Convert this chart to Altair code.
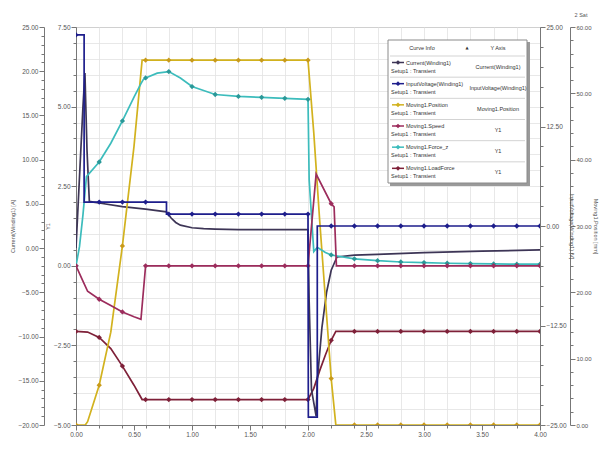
import altair as alt
import pandas as pd

# ---------------- data ----------------
# Current(Winding1) [A]
CUR_T = [0.0, 0.03, 0.06, 0.077, 0.095, 0.115, 0.15, 0.2, 0.4, 0.6, 0.78, 0.82, 0.86, 0.9, 1.0, 1.1, 1.2, 1.4,
         1.6, 1.8, 2.0, 2.01, 2.03, 2.07, 2.08, 2.12, 2.16, 2.2, 2.25, 2.4, 2.6, 3.0, 3.5, 4.0]
CUR_V = [0.0, 8.0, 16.0, 19.8, 11.0, 5.3, 5.2, 5.1, 4.7, 4.4, 4.1, 3.4, 2.9, 2.6, 2.3, 2.2, 2.15, 2.1,
         2.1, 2.1, 2.1, -6.0, -16.0, -19.0, -15.0, -9.0, -5.0, -2.5, -1.0, -0.8, -0.7, -0.5, -0.35, -0.2]

# InputVoltage(Winding1) [V]
VOL_T = [0.0, 0.07, 0.07, 0.2, 0.4, 0.6, 0.78, 0.78, 0.8, 1.0, 1.2, 1.4, 1.6, 1.8, 2.0, 2.003, 2.08, 2.08,
         2.2, 2.4, 2.6, 2.8, 3.0, 3.2, 3.4, 3.6, 3.8, 4.0]
VOL_V = [24, 24, 3.0, 3.0, 3.0, 3.0, 3.0, 1.5, 1.5, 1.5, 1.5, 1.5, 1.5, 1.5, 1.5, -24, -24, 0,
         0, 0, 0, 0, 0, 0, 0, 0, 0, 0]

# Moving1.Position [mm]
POS_T = [0.0, 0.08, 0.1, 0.2, 0.3, 0.4, 0.5, 0.57, 0.6, 0.8, 1.0, 1.2, 1.4, 1.6, 1.8, 2.0, 2.05, 2.1, 2.15,
         2.2, 2.24, 2.4, 2.6, 2.8, 3.0, 3.2, 3.4, 3.6, 3.8, 4.0]
POS_V = [0, 0, 0.5, 6.0, 14, 27, 42, 55, 55, 55, 55, 55, 55, 55, 55, 55, 44, 31, 19,
         7, 0, 0, 0, 0, 0, 0, 0, 0, 0, 0]

# Moving1.Speed (Y1)
SPD_T = [0.0, 0.05, 0.1, 0.2, 0.3, 0.4, 0.5, 0.56, 0.6, 0.8, 1.0, 1.2, 1.4, 1.6, 1.8, 2.0, 2.07, 2.2, 2.225,
         2.245, 2.4, 2.6, 2.8, 3.0, 3.2, 3.4, 3.6, 3.8, 4.0]
SPD_V = [0, -0.4, -0.8, -1.05, -1.25, -1.45, -1.6, -1.68, 0, 0, 0, 0, 0, 0, 0, 0, 2.88, 1.95, 1.85,
         0, 0, 0, 0, 0, 0, 0, 0, 0, 0]

# Moving1.Force_z (Y1)
FZ_T = [0.0, 0.03, 0.06, 0.09, 0.2, 0.3, 0.4, 0.5, 0.56, 0.58, 0.6, 0.7, 0.8, 0.9, 1.0, 1.2, 1.4, 1.6, 1.8,
        2.0, 2.01, 2.05, 2.08, 2.15, 2.2, 2.4, 2.6, 2.8, 3.0, 3.2, 3.4, 3.6, 3.8, 4.0]
FZ_V = [0, 0.6, 1.6, 2.8, 3.26, 3.85, 4.55, 5.3, 5.72, 5.85, 5.9, 6.05, 6.1, 5.9, 5.63, 5.38, 5.32, 5.29, 5.26,
        5.23, 2.7, 0.45, 0.58, 0.42, 0.34, 0.22, 0.16, 0.12, 0.1, 0.08, 0.07, 0.06, 0.05, 0.05]

# Moving1.LoadForce (Y1)
LF_T = [0.0, 0.1, 0.2, 0.3, 0.4, 0.5, 0.57, 0.6, 0.8, 1.0, 1.2, 1.4, 1.6, 1.8, 2.0, 2.05, 2.1, 2.15, 2.2,
        2.24, 2.4, 2.6, 2.8, 3.0, 3.2, 3.4, 3.6, 3.8, 4.0]
LF_V = [-2.06, -2.08, -2.25, -2.6, -3.15, -3.75, -4.2, -4.2, -4.2, -4.2, -4.2, -4.2, -4.2, -4.2, -4.2, -3.85,
        -3.3, -2.8, -2.34, -2.06, -2.06, -2.06, -2.06, -2.06, -2.06, -2.06, -2.06, -2.06, -2.06]

LEG_NAMES = ["Current(Winding1)", "InputVoltage(Winding1)", "Moving1.Position",
             "Moving1.Speed", "Moving1.Force_z", "Moving1.LoadForce"]
LEG_SETUP = "Setup1 : Transient"
LEG_YAXIS = ["Current(Winding1)", "InputVoltage(Winding1)", "Moving1.Position", "Y1", "Y1", "Y1"]

# ---------------- style / layout ----------------
FONT = "Liberation Sans"
PAD_L, PAD_T = 68, 19
W, H = 464, 398
OX, OY = 8 + PAD_L, 8 + PAD_T          # page position of the plot origin
C_CUR = "#3d3556"
C_VOL = "#1e1e8c"
C_POS = "#d2b21e"
C_SPD = "#9c2c5c"
C_FZ = "#3cbcbc"
C_LF = "#7e2038"
LEG_COLORS = [C_CUR, C_VOL, C_POS, C_SPD, C_FZ, C_LF]


def frame(ts, vs):
    return pd.DataFrame({"t": ts, "v": vs, "i": list(range(len(ts)))})


def mult(step, var="datum.value"):
    return f"abs({var}/{step} - round({var}/{step})) < 0.001"


def make_axis(orient, values, major, title, offset=0, grid=False, grid_test=None, **extra):
    kw = dict(orient=orient, values=values, offset=offset, title=title,
              labelExpr=f"({mult(major)}) ? format(datum.value, '.2f') : ''",
              tickSize={"condition": {"test": mult(major), "value": 5}, "value": 3},
              labelOverlap=False, labelFlush=False, grid=grid)
    if grid_test:
        kw["gridOpacity"] = {"condition": {"test": grid_test, "value": 1}, "value": 0}
    kw.update(extra)
    return alt.Axis(**kw)


x_vals = sorted(set(round(0.1 * k, 2) for k in range(41) if k % 2 == 0 or k % 5 == 0))
x_axis = make_axis("bottom", x_vals, 0.5, None, grid=True, grid_test=mult(0.2),
                   labelFontSize=6.5, labelPadding=1)
X = alt.X("t:Q", scale=alt.Scale(domain=[0, 4], nice=False, zero=False), axis=x_axis)

ax_cur = make_axis("left", list(range(-20, 26)), 5, "Current(Winding1) [A]", offset=32,
                   labelFontSize=6.5, labelPadding=1, titlePadding=2)
ax_y1 = make_axis("left", [round(-5 + 0.5 * k, 2) for k in range(26)], 2.5, "Y1", grid=True,
                  labelFontSize=6.5, labelPadding=1, titlePadding=3)
ax_vol = make_axis("right", [-25 + 2.5 * k for k in range(21)], 12.5, "InputVoltage(Winding1) [V]",
                   labelFontSize=6.5, labelPadding=1, titlePadding=2)
ax_pos = make_axis("right", list(range(0, 61, 2)), 10, "Moving1.Position [mm]", offset=30,
                   labelFontSize=6, labelPadding=1, titlePadding=1)

D_CUR, D_Y1, D_VOL, D_POS = [-20, 25], [-5, 7.5], [-25, 25], [0, 60]


def yenc(dom, ax):
    return alt.Y("v:Q", scale=alt.Scale(domain=dom, nice=False, zero=False), axis=ax)


def line(d, color, dom, ax=None):
    return alt.Chart(d).mark_line(color=color, strokeWidth=1.7, clip=True).encode(
        x=X, y=yenc(dom, ax), order=alt.Order("i:Q"))


def marks(d, color, dom):
    return alt.Chart(d).transform_filter(mult(0.2, "datum.t")).mark_point(
        shape="diamond", filled=True, size=28, color=color, opacity=1, clip=True).encode(
        x=X, y=yenc(dom, None))


dcur, dvol, dpos = frame(CUR_T, CUR_V), frame(VOL_T, VOL_V), frame(POS_T, POS_V)
dspd, dfz, dlf = frame(SPD_T, SPD_V), frame(FZ_T, FZ_V), frame(LF_T, LF_V)

layers = [
    line(dlf, C_LF, D_Y1, ax_y1), marks(dlf, C_LF, D_Y1),
    line(dcur, C_CUR, D_CUR, ax_cur),
    line(dpos, C_POS, D_POS, ax_pos), marks(dpos, "#c99a1a", D_POS),
    line(dfz, C_FZ, D_Y1), marks(dfz, "#2a9898", D_Y1),
    line(dspd, C_SPD, D_Y1), marks(dspd, C_SPD, D_Y1),
    line(dvol, C_VOL, D_VOL, ax_vol), marks(dvol, C_VOL, D_VOL),
]

# ---------------- legend table (page coordinates converted to plot coordinates) ----------------
dummy = alt.Chart(pd.DataFrame({"a": [0]}))


def px(v):
    return alt.value(v - OX)


def py(v):
    return alt.value(v - OY)


BX0, BX1, BY0, BY1 = 388, 527, 40, 183
HEAD = 56
ROWH = (BY1 - HEAD) / 6
legend = [
    dummy.mark_rect(color="#9a9a9a").encode(x=px(BX0 + 2), x2=px(BX1 + 3), y=py(BY0 + 2), y2=py(BY1 + 3)),
    dummy.mark_rect(fill="white", stroke="#8a8a8a", strokeWidth=1).encode(
        x=px(BX0), x2=px(BX1), y=py(BY0), y2=py(BY1)),
    dummy.mark_text(text="Curve Info", font=FONT, fontSize=5.5, color="#333").encode(x=px(422), y=py(48)),
    dummy.mark_text(text="\u25b2", font="DejaVu Sans", fontSize=4, color="#333").encode(x=px(467), y=py(48)),
    dummy.mark_text(text="Y Axis", font=FONT, fontSize=5.5, color="#333").encode(x=px(498), y=py(48)),
]
for k in range(6):
    top = HEAD + k * ROWH
    legend += [
        dummy.mark_rule(color="#c8c8c8", strokeWidth=0.8).encode(x=px(BX0 + 2), x2=px(BX1 - 2), y=py(top)),
        dummy.mark_rule(color=LEG_COLORS[k], strokeWidth=1.5).encode(x=px(392), x2=px(404), y=py(top + 6.5)),
        dummy.mark_point(shape="diamond", filled=True, size=22, color=LEG_COLORS[k], opacity=1).encode(
            x=px(398), y=py(top + 6.5)),
        dummy.mark_text(text=LEG_NAMES[k], align="left", font=FONT, fontSize=5.5, color="#333").encode(
            x=px(406), y=py(top + 6.5)),
        dummy.mark_text(text=LEG_SETUP, align="left", font=FONT, fontSize=5.5, color="#333").encode(
            x=px(391), y=py(top + 14.5)),
        dummy.mark_text(text=LEG_YAXIS[k], font=FONT, fontSize=5.5, color="#333").encode(
            x=px(498), y=py(top + 10.5)),
    ]
legend.append(dummy.mark_text(text="2 Sat", font=FONT, fontSize=5.5, color="#555").encode(x=px(581), y=py(15)))

chart = alt.layer(*layers, *legend).resolve_scale(y="independent").properties(
    width=W, height=H,
    autosize=alt.AutoSizeParams(type="none"),
    padding={"left": PAD_L, "top": PAD_T, "right": 593 - PAD_L - W, "bottom": 434 - PAD_T - H},
    background="white",
).configure_view(stroke="#888", strokeWidth=1).configure_axis(
    labelFont=FONT, labelFontSize=7, labelColor="#555",
    titleFont=FONT, titleFontSize=5.5, titleColor="#555", titleFontWeight="normal",
    domainColor="#777", tickColor="#777", gridColor="#e2e2e2", gridWidth=0.8,
    labelPadding=2, titlePadding=3,
)

chart.save("out.html", embed_options={"renderer": "svg", "actions": False})
